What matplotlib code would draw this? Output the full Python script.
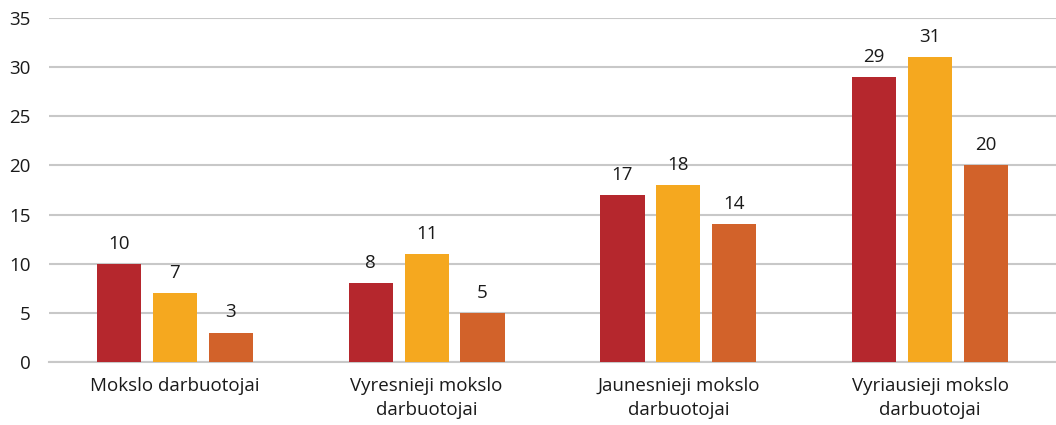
import matplotlib
matplotlib.use("Agg")
import matplotlib.pyplot as plt
import numpy as np

categories = ["Mokslo darbuotojai", "Vyresnieji mokslo\ndarbuotojai",
              "Jaunesnieji mokslo\ndarbuotojai", "Vyriausieji mokslo\ndarbuotojai"]
series_a = [10, 8, 17, 29]
series_b = [7, 11, 18, 31]
series_c = [3, 5, 14, 20]
colors = ["#B5272D", "#F5A81F", "#D2622A"]

plt.rcParams["font.family"] = ["Open Sans", "DejaVu Sans"]

fig = plt.figure(figsize=(10.56, 4.25), dpi=100)
ax = fig.add_axes([0.0464, 0.148, 0.9536, 0.81])

x = np.arange(len(categories))
w = 0.175
step = 0.222
for i, (vals, c) in enumerate(zip([series_a, series_b, series_c], colors)):
    pos = x + (i - 1) * step
    bars = ax.bar(pos, vals, width=w, color=c, zorder=3)
    for b, v in zip(bars, vals):
        ax.annotate(str(v), (b.get_x() + b.get_width() / 2, v),
                    xytext=(0, 8), textcoords="offset points",
                    ha="center", va="bottom", fontsize=13.5, color="#1a1a1a")

ax.set_xlim(-0.5, len(categories) - 0.5)
ax.set_ylim(0, 35)
ax.set_yticks(range(0, 36, 5))
ax.yaxis.grid(True, color="#C8C8C8", linewidth=1.5, zorder=0)
ax.set_axisbelow(True)
for s in ["top", "right", "left"]:
    ax.spines[s].set_visible(False)
ax.spines["bottom"].set_color("#C8C8C8")
ax.spines["bottom"].set_linewidth(1.5)
ax.tick_params(axis="both", length=0, labelsize=13.5, colors="#1a1a1a")
ax.tick_params(axis="y", pad=13)
ax.tick_params(axis="x", pad=11)
ax.set_xticks(x)
ax.set_xticklabels(categories, linespacing=1.4)

fig.savefig("out.png", dpi=100)
